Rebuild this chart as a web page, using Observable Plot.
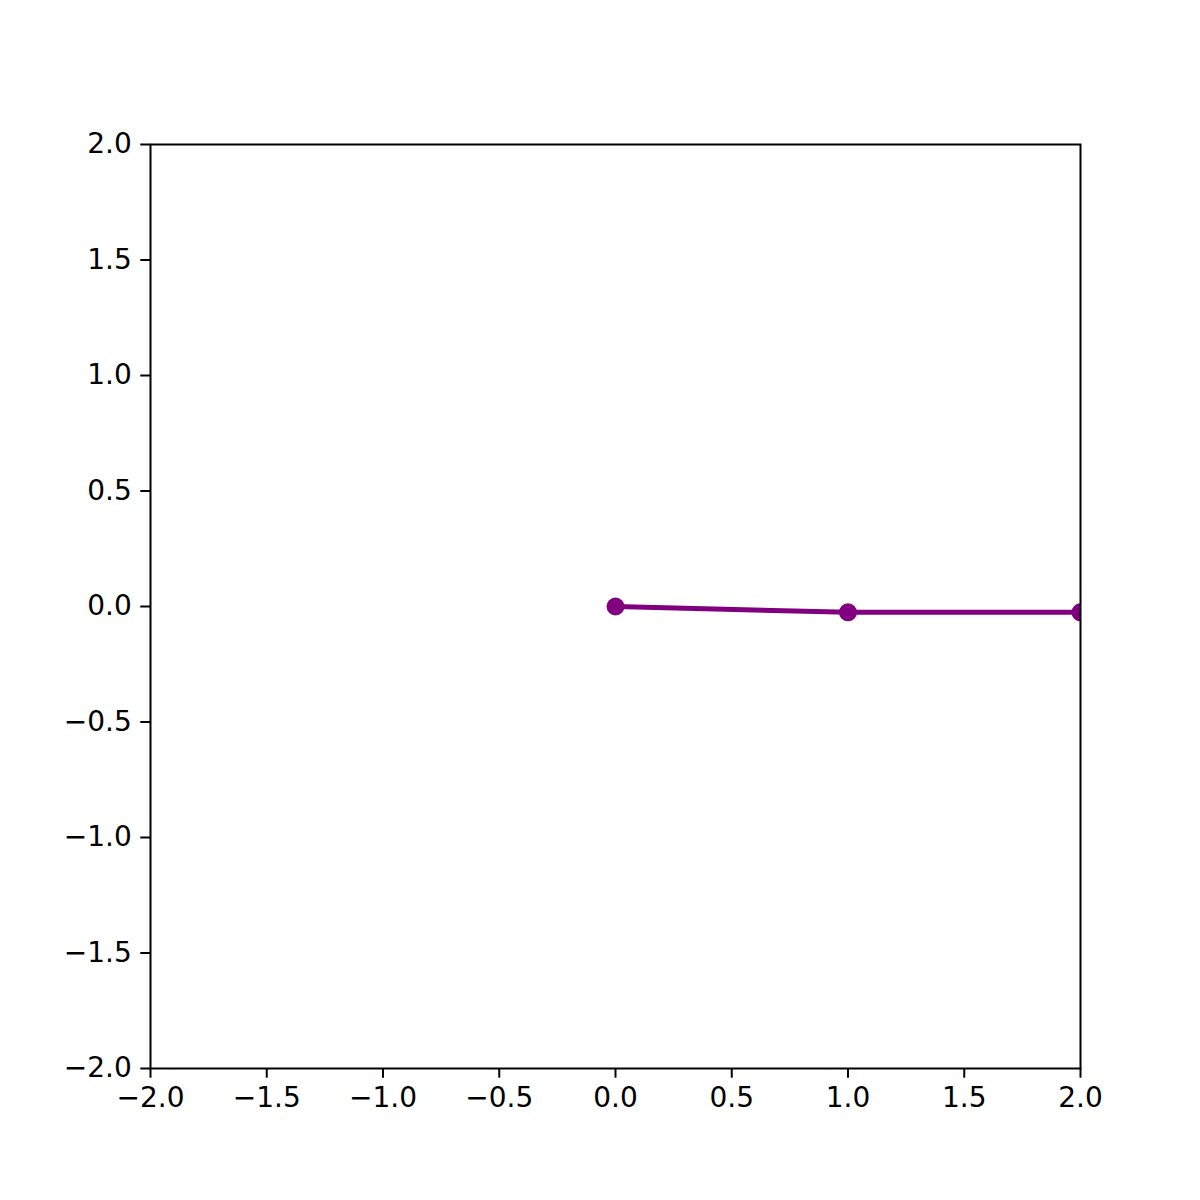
<!DOCTYPE html>
<html>
<head>
<meta charset="utf-8">
<script src="https://cdn.jsdelivr.net/npm/d3@7"></script>
<script src="https://cdn.jsdelivr.net/npm/@observablehq/plot@0.6"></script>
<style>
  html, body { margin: 0; padding: 0; background: white; }
</style>
</head>
<body>
<div id="chart"></div>
<script>
const xs = [0, 1, 2];
const ys = [0, -0.025, -0.025];
const xTicks = [-2, -1.5, -1, -0.5, 0, 0.5, 1, 1.5, 2];
const yTicks = [-2, -1.5, -1, -0.5, 0, 0.5, 1, 1.5, 2];

const data = xs.map((x, i) => ({x, y: ys[i]}));
const fmt = d3.format(".1f");

const chart = Plot.plot({
  width: 1200,
  height: 1200,
  marginLeft: 150,
  marginRight: 120,
  marginTop: 144,
  marginBottom: 132,
  style: {fontFamily: "DejaVu Sans", fontSize: "28px", color: "black", background: "white"},
  x: {domain: [-2, 2]},
  y: {domain: [-2, 2]},
  marks: [
    Plot.line(data, {x: "x", y: "y", stroke: "purple", strokeWidth: 5, clip: true}),
    Plot.dot(data, {x: "x", y: "y", r: 9, fill: "purple", stroke: "none", clip: true}),
    Plot.frame({stroke: "black", strokeWidth: 2}),
    Plot.axisX({ticks: xTicks, tickFormat: fmt, tickSize: 9.7, tickPadding: 9, strokeWidth: 2, label: null, fontSize: 28}),
    Plot.axisY({ticks: yTicks, tickFormat: fmt, tickSize: 9.7, tickPadding: 9, strokeWidth: 2, label: null, fontSize: 28})
  ]
});
document.getElementById("chart").appendChild(chart);
</script>
</body>
</html>
